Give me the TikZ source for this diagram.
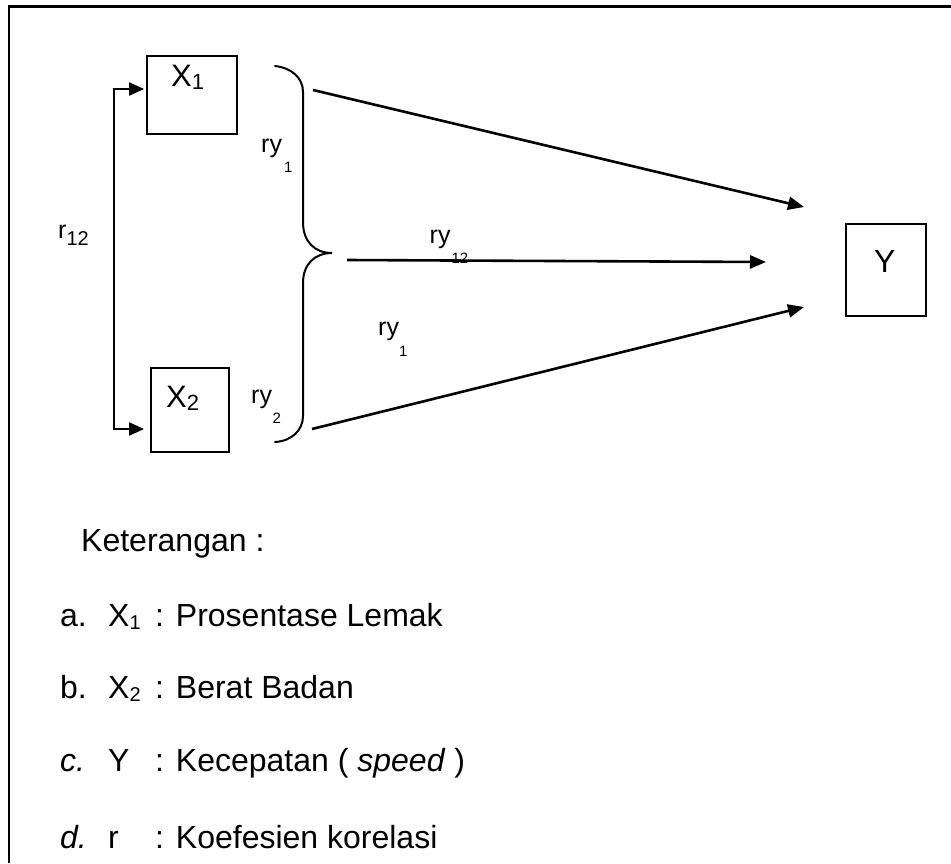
\documentclass[tikz,border=0pt]{standalone}
\usepackage{fontspec}
\setmainfont{Liberation Sans}
\usetikzlibrary{arrows.meta}
\newcommand\fsz[1]{\fontsize{#1}{#1}\selectfont}
\begin{document}
\begin{tikzpicture}[x=1pt,y=-1pt,
  box/.style={draw, line width=1.8pt, inner sep=0pt},
  arr/.style={line width=2.6pt, -{Triangle[length=16pt,width=13pt]}},
  conn/.style={line width=2pt, {Triangle[length=15pt,width=13pt]}-{Triangle[length=15pt,width=13pt]}},
  bracest/.style={line width=2pt, line cap=round},
  big/.style={anchor=base west, inner sep=0pt, font={\fsz{31}}},
  txt/.style={anchor=base west, inner sep=0pt, font={\fsz{32}}},
  lbl/.style={anchor=base west, inner sep=0pt, font={\fsz{25}}},
]
\useasboundingbox (0,0) rectangle (951,863);
% frame
\draw[line width=2.5pt] (9,863) -- (9,6.5) -- (951,6.5);

% boxes
\node[box, minimum width=90pt, minimum height=78pt] (x1) at (192,95) {};
\node[box, minimum width=78pt, minimum height=84pt] (x2) at (190,410) {};
\node[box, minimum width=80pt, minimum height=92pt] (y) at (886,270) {};
\node[big] (x1t) at (171,86) {X\raisebox{-3pt}{\fsz{22}1}};
\node[big] (x2t) at (166,407) {X\raisebox{-3pt}{\fsz{22}2}};
\node[big, font={\fsz{32}}] (yt) at (874,272) {Y};

% correlation connector
\coordinate (c1) at (114,89);
\coordinate (c2) at (114,429);
\draw[conn, shorten <=2pt, shorten >=6pt] (x1.west |- c1) -- (c1) -- (c2) -- (x2.west |- c2);
\node[lbl] (r12) at (58,238) {r\raisebox{-7pt}{\fsz{20}12}};

% brace
\coordinate (b1) at (275,66);
\coordinate (bt) at (332,253);
\coordinate (b2) at (275,442);
\draw[bracest] (b1) .. controls (292,68) and (303,78) .. (303,92) -- (303,222)
  .. controls (303,242) and (315,253) .. (bt)
  .. controls (315,253) and (303,264) .. (303,283) -- (303,416)
  .. controls (303,430) and (292,441) .. (b2);

% arrows to Y
\coordinate (a1s) at (313,90);  \coordinate (a1e) at (804,207);
\coordinate (a2s) at (347,260); \coordinate (a2e) at (766,262);
\coordinate (a3s) at (312,429); \coordinate (a3e) at (804,307);
\draw[arr] (a1s) -- (a1e);
\draw[arr] (a2s) -- (a2e);
\draw[arr] (a3s) -- (a3e);

% ry labels
\node[lbl] (ry1a) at (261,152) {ry\kern2pt\raisebox{-20pt}{\fsz{15}1}};
\node[lbl] (ry12) at (429.5,243) {ry\kern1pt\raisebox{-20pt}{\fsz{15}12}};
\node[lbl] (ry1b) at (378,335) {ry\raisebox{-21pt}{\fsz{15}1}};
\node[lbl] (ry2) at (251,403) {ry\kern0.5pt\raisebox{-20pt}{\fsz{15}2}};

% legend
\node[txt] (ket) at (81,551.7) {Keterangan :};
\node[txt] (la) at (60,626) {a.};
\node[txt] (sa) at (108,626) {X\raisebox{-3pt}{\fsz{20}1}};
\node[txt] (da) at (155,626) {: Prosentase Lemak};
\node[txt] (lb) at (60,698) {b.};
\node[txt] (sb) at (108,698) {X\raisebox{-3pt}{\fsz{20}2}};
\node[txt] (db) at (155,698) {: Berat Badan};
\node[txt] (lc) at (60,771.5) {\itshape c.};
\node[txt] (sc) at (108,771.5) {Y};
\node[txt] (dc) at (155,771.5) {: Kecepatan ( \textit{speed} )};
\node[txt] (ld) at (60,848) {\itshape d.};
\node[txt] (sd) at (108,848) {r};
\node[txt] (dd) at (155,848) {: Koefesien korelasi};
\end{tikzpicture}
\end{document}
